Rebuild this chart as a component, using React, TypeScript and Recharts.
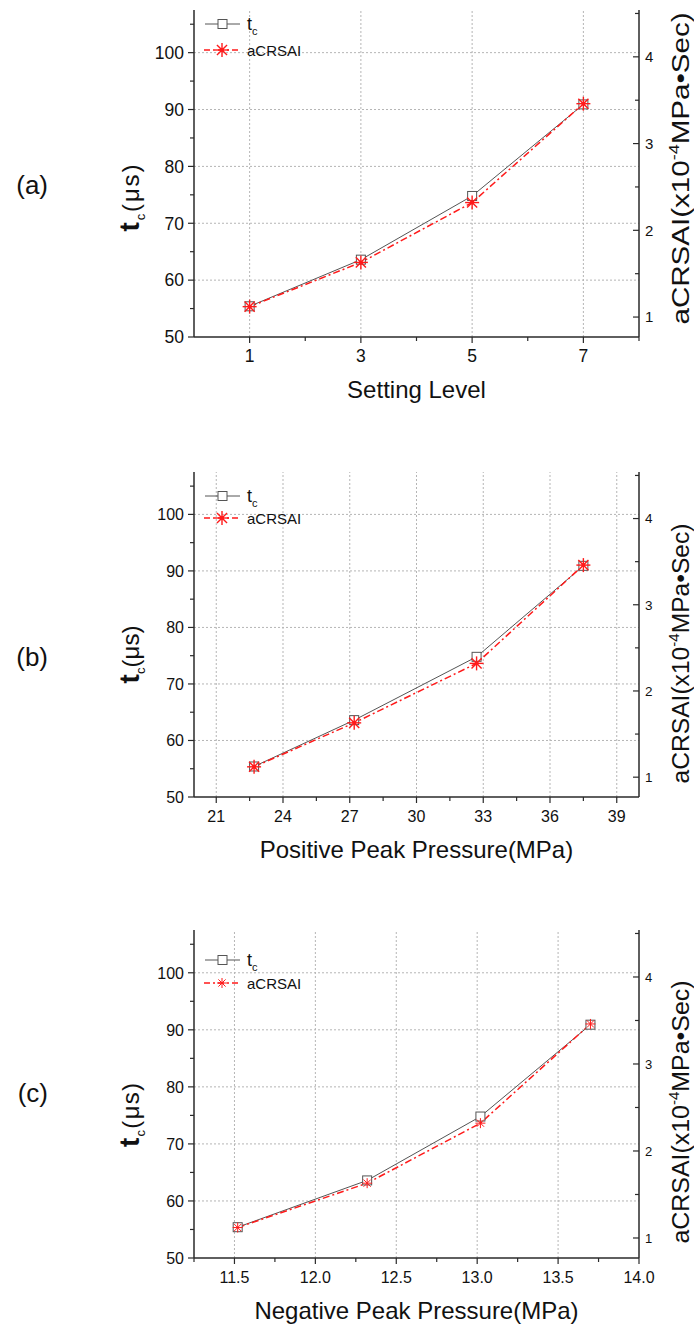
import React from 'react';
import { LineChart, Line, XAxis, YAxis, ReferenceLine, Legend } from 'recharts';

// ---------- data ----------
const tcValues = [55.4, 63.6, 74.8, 90.9]; // t_c (µs), left axis
const acrsaiValues = [1.12, 1.63, 2.32, 3.46]; // aCRSAI (x10^-4 MPa·Sec), right axis
const settingLevels = [1, 3, 5, 7];
const positivePeak = [22.7, 27.2, 32.7, 37.5];
const negativePeak = [11.52, 12.32, 13.02, 13.7];

const leftMajor = [50, 60, 70, 80, 90, 100];
const leftMinor = [55, 65, 75, 85, 95, 105];
const rightMajor = [1, 2, 3, 4];
const rightMinor = [1.5, 2.5, 3.5, 4.5];

const xMajorA = [1, 3, 5, 7];
const xMinorA = [2, 4, 6, 8];
const xMajorB = [21, 24, 27, 30, 33, 36, 39];
const xMinorB = [22.5, 25.5, 28.5, 31.5, 34.5, 37.5];
const xMajorC = [11.5, 12.0, 12.5, 13.0, 13.5, 14.0];
const xMinorC = [11.25, 11.75, 12.25, 12.75, 13.25, 13.75];

const FONT = '"Liberation Sans", Arial, Helvetica, sans-serif';
const AXIS = '#2a2a2a';
const RED = '#ff1a1a';

const isMajor = (v: number, majors: number[]) => majors.some((m) => Math.abs(m - v) < 1e-6);

type PanelCfg = {
  tag: string;
  xs: number[];
  xDomain: [number, number];
  xMajor: number[];
  xMinor: number[];
  xDecimals: number;
  xTitle: string;
  chartTop: number;
  height: number;
  marginTop: number;
  marginBottom: number;
  tickFont: number;
  rightFont: number;
  tagDy: number;
  titleDy: number;
  titleLen: number;
  rightTitleDy: number;
  rightTitleLen: number;
  legendTop: number;
  legendGap: number;
  small: boolean;
};

const panels: PanelCfg[] = [
  {
    tag: '(a)', xs: settingLevels, xDomain: [0, 8], xMajor: xMajorA, xMinor: xMinorA, xDecimals: 0,
    xTitle: 'Setting Level', chartTop: 0, height: 420, marginTop: 10, marginBottom: 53,
    tickFont: 17.5, rightFont: 15, tagDy: 11.5, titleDy: 24.5, titleLen: 67, rightTitleDy: -5, rightTitleLen: 312,
    legendTop: 14, legendGap: 26, small: false,
  },
  {
    tag: '(b)', xs: positivePeak, xDomain: [20, 40], xMajor: xMajorB, xMinor: xMinorB, xDecimals: 0,
    xTitle: 'Positive Peak Pressure(MPa)', chartTop: 420, height: 460, marginTop: 52, marginBottom: 53,
    tickFont: 16, rightFont: 13.5, tagDy: 22, titleDy: 20, titleLen: 58, rightTitleDy: 19, rightTitleLen: 260,
    legendTop: 24, legendGap: 22, small: false,
  },
  {
    tag: '(c)', xs: negativePeak, xDomain: [11.25, 14], xMajor: xMajorC, xMinor: xMinorC, xDecimals: 1,
    xTitle: 'Negative Peak Pressure(MPa)', chartTop: 880, height: 446, marginTop: 50, marginBottom: 38,
    tickFont: 16, rightFont: 13, tagDy: -1, titleDy: 21, titleLen: 64, rightTitleDy: 18, rightTitleLen: 263,
    legendTop: 30, legendGap: 23, small: true,
  },
];

const LEFT_W = 60;
const RIGHT_W = 40;
const M_LEFT = 134;
const M_RIGHT = 15;
const X_H = 30;

function Square(props: any) {
  const { cx, cy } = props;
  if (cx == null || cy == null) return <g />;
  return <rect x={cx - 4.5} y={cy - 4.5} width={9} height={9} fill="#fff" stroke="#555" strokeWidth={1} />;
}

function Star({ cx, cy, r, w, dot }: { cx: number; cy: number; r: number; w: number; dot: boolean }) {
  const d = r * 0.72;
  return (
    <g stroke={RED} strokeWidth={w} fill="none">
      <line x1={cx} y1={cy - r} x2={cx} y2={cy + r} />
      <line x1={cx - r} y1={cy} x2={cx + r} y2={cy} />
      <line x1={cx - d} y1={cy - d} x2={cx + d} y2={cy + d} />
      <line x1={cx - d} y1={cy + d} x2={cx + d} y2={cy - d} />
      {dot && <circle cx={cx} cy={cy} r={2} fill={RED} stroke="none" />}
    </g>
  );
}

function Panel({ cfg }: { cfg: PanelCfg }) {
  const data = cfg.xs.map((x, i) => ({ x, tc: tcValues[i], ac: acrsaiValues[i] }));
  const plotTop = cfg.marginTop;
  const plotBottom = cfg.height - cfg.marginBottom - X_H;
  const plotMid = (plotTop + plotBottom) / 2;
  const plotLeft = M_LEFT + LEFT_W;
  const plotRight = 694 - M_RIGHT - RIGHT_W;
  const starR = cfg.small ? 5 : 7;
  const starW = cfg.small ? 1 : 1.4;

  const xTick = (p: any) => {
    const { x, y, payload } = p;
    const major = isMajor(payload.value, cfg.xMajor);
    return (
      <g>
        <line x1={x} y1={y} x2={x} y2={y + (major ? 6 : 4)} stroke={AXIS} strokeWidth={1.2} />
        {major && (
          <text x={x} y={y + 25} textAnchor="middle" fontSize={cfg.tickFont} fontFamily={FONT} fill="#111">
            {payload.value.toFixed(cfg.xDecimals)}
          </text>
        )}
      </g>
    );
  };
  const leftTick = (p: any) => {
    const { x, y, payload } = p;
    const major = isMajor(payload.value, leftMajor);
    return (
      <g>
        <line x1={x} y1={y} x2={x - (major ? 6 : 4)} y2={y} stroke={AXIS} strokeWidth={1.2} />
        {major && (
          <text x={x - 10} y={y + cfg.tickFont * 0.36} textAnchor="end" fontSize={cfg.tickFont} fontFamily={FONT} fill="#111">
            {payload.value}
          </text>
        )}
      </g>
    );
  };
  const rightTick = (p: any) => {
    const { x, y, payload } = p;
    const major = isMajor(payload.value, rightMajor);
    return (
      <g>
        <line x1={x} y1={y} x2={x - (major ? 6 : 4)} y2={y} stroke={AXIS} strokeWidth={1.2} />
        {major && (
          <text x={x + 6} y={y + cfg.rightFont * 0.36} textAnchor="start" fontSize={cfg.rightFont} fontFamily={FONT} fill="#111">
            {payload.value}
          </text>
        )}
      </g>
    );
  };

  const leftLabel = () => {
    const cy = plotMid + cfg.titleDy;
    return (
      <g>
        <text x={48} y={plotMid + cfg.tagDy + 9} textAnchor="end" fontSize={26} fontFamily={FONT} fill="#111">
          {cfg.tag}
        </text>
        <text
          transform={`translate(139, ${cy}) rotate(-90)`}
          textAnchor="middle"
          fontFamily={FONT}
          fill="#111"
          textLength={cfg.titleLen}
        >
          <tspan fontSize={28} fontWeight="bold">t</tspan>
          <tspan fontSize={13} dy={6}>c</tspan>
          <tspan fontSize={24} dy={-6}>(μs)</tspan>
        </text>
      </g>
    );
  };
  const rightLabel = () => {
    const cy = plotMid + cfg.rightTitleDy;
    return (
      <text
        transform={`translate(689, ${cy}) rotate(-90)`}
        textAnchor="middle"
        fontFamily={FONT}
        fill="#111"
        fontSize={23}
        textLength={cfg.rightTitleLen}
        lengthAdjust="spacingAndGlyphs"
      >
        aCRSAI(x10<tspan fontSize={14} dy={-10}>-4</tspan>
        <tspan dy={10}>MPa•Sec)</tspan>
      </text>
    );
  };
  const bottomLabel = () => (
    <text x={(plotLeft + plotRight) / 2} y={plotBottom + 61} textAnchor="middle" fontSize={24} fontFamily={FONT} fill="#111">
      {cfg.xTitle}
    </text>
  );

  const legendContent = () => {
    const r1 = 14;
    const r2 = r1 + cfg.legendGap;
    return (
      <svg width={130} height={r2 + 14} style={{ overflow: 'visible', display: 'block' }}>
        <line x1={5} y1={r1} x2={40} y2={r1} stroke="#555" strokeWidth={1} />
        <rect x={18} y={r1 - 4.5} width={9} height={9} fill="#fff" stroke="#555" strokeWidth={1} />
        <text x={47} y={r1 + 6} fontFamily={FONT} fill="#111">
          <tspan fontSize={18}>t</tspan>
          <tspan fontSize={11} dy={5}>c</tspan>
        </text>
        <line x1={4} y1={r2} x2={40} y2={r2} stroke={RED} strokeWidth={1.5} strokeDasharray="6 3 2 3" />
        <Star cx={22} cy={r2} r={starR} w={starW} dot={!cfg.small} />
        <text x={47} y={r2 + 5.5} fontSize={15} fontFamily={FONT} fill="#111">
          aCRSAI
        </text>
      </svg>
    );
  };

  return (
    <div style={{ position: 'absolute', left: 0, top: cfg.chartTop, width: 694, height: cfg.height }}>
      <LineChart
        width={694}
        height={cfg.height}
        data={data}
        margin={{ top: cfg.marginTop, right: M_RIGHT, bottom: cfg.marginBottom, left: M_LEFT }}
      >
        <XAxis
          dataKey="x"
          type="number"
          domain={cfg.xDomain}
          allowDataOverflow
          ticks={[...cfg.xMajor, ...cfg.xMinor].sort((a, b) => a - b)}
          interval={0}
          tickSize={0}
          tickMargin={0}
          tickLine={false}
          tick={xTick}
          height={X_H}
          axisLine={{ stroke: AXIS, strokeWidth: 1.5 }}
          label={{ content: bottomLabel }}
        />
        <YAxis
          yAxisId="left"
          type="number"
          domain={[50, 107.5]}
          allowDataOverflow
          ticks={[...leftMajor, ...leftMinor].sort((a, b) => a - b)}
          interval={0}
          tickSize={0}
          tickMargin={0}
          tickLine={false}
          tick={leftTick}
          width={LEFT_W}
          axisLine={{ stroke: AXIS, strokeWidth: 1.5 }}
          label={{ content: leftLabel }}
        />
        <YAxis
          yAxisId="right"
          orientation="right"
          type="number"
          domain={[0.77, 4.54]}
          allowDataOverflow
          ticks={[...rightMajor, ...rightMinor].sort((a, b) => a - b)}
          interval={0}
          tickSize={0}
          tickMargin={0}
          tickLine={false}
          tick={rightTick}
          width={RIGHT_W}
          axisLine={{ stroke: AXIS, strokeWidth: 1.5 }}
          label={{ content: rightLabel }}
        />
        {cfg.xMajor
          .filter((v) => v > cfg.xDomain[0] && v < cfg.xDomain[1])
          .map((v) => (
            <ReferenceLine key={`gx${v}`} x={v} yAxisId="left" stroke="#b5b5b5" strokeDasharray="2 2" strokeWidth={1} />
          ))}
        {leftMajor
          .filter((v) => v > 50)
          .map((v) => (
            <ReferenceLine key={`gy${v}`} y={v} yAxisId="left" stroke="#b5b5b5" strokeDasharray="2 2" strokeWidth={1} />
          ))}
        <Legend
          layout="horizontal"
          verticalAlign="middle"
          align="center"
          content={legendContent}
          wrapperStyle={{ position: 'absolute', left: 200, top: plotTop + cfg.legendTop - 14, width: 130, height: 60 }}
        />
        <Line
          yAxisId="left"
          dataKey="tc"
          stroke="#555"
          strokeWidth={1}
          isAnimationActive={false}
          dot={(p: any) => <Square key={`s${p.index}`} {...p} />}
          activeDot={false}
        />
        <Line
          yAxisId="right"
          dataKey="ac"
          stroke={RED}
          strokeWidth={1.5}
          strokeDasharray="7 3 2 3"
          isAnimationActive={false}
          dot={(p: any) =>
            p.cx == null ? <g key={`a${p.index}`} /> : (
              <Star key={`a${p.index}`} cx={p.cx} cy={p.cy} r={starR} w={starW} dot={!cfg.small} />
            )
          }
          activeDot={false}
        />
      </LineChart>
    </div>
  );
}

export default function App() {
  return (
    <div style={{ position: 'absolute', left: 0, top: 0, width: 694, height: 1326, background: '#fff' }}>
      {panels.map((p) => (
        <Panel key={p.tag} cfg={p} />
      ))}
    </div>
  );
}
